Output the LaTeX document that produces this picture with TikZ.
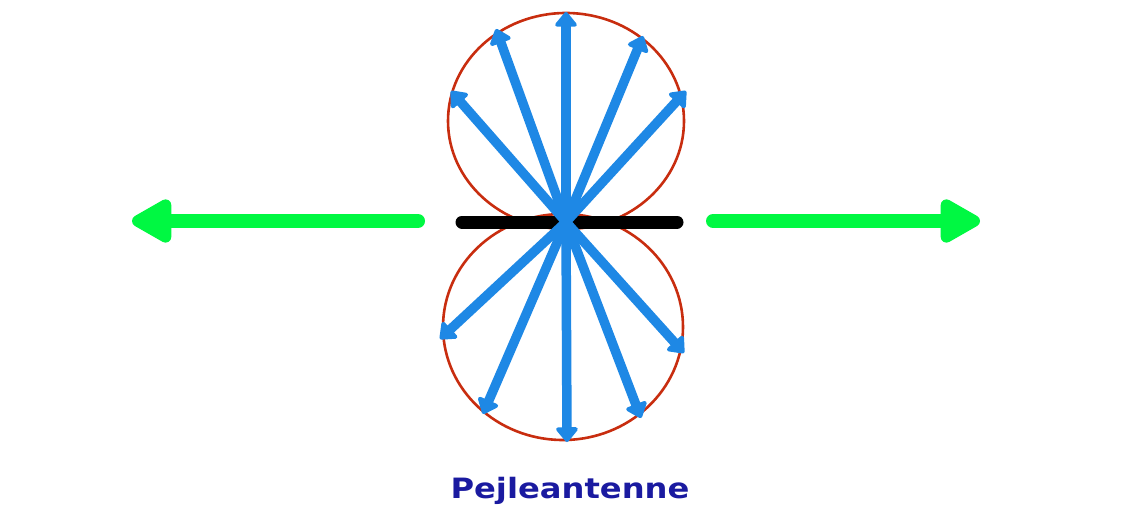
\documentclass[tikz,border=0pt]{standalone}
\usepackage{fontspec}
\newfontfamily\labelfont{DejaVu Sans}
\usetikzlibrary{arrows.meta}
\definecolor{lobered}{RGB}{200,45,15}
\definecolor{rayblue}{RGB}{30,136,229}
\definecolor{dirgreen}{RGB}{0,248,66}
\definecolor{txtblue}{RGB}{26,26,160}
\tikzset{
  lobe/.style={draw=lobered, line width=2.6pt},
  ray/.style={draw=rayblue, line width=9.5pt, -{Triangle[length=16pt,width=25pt,round]}},
  antenna/.style={draw=black, line width=13pt, line cap=round},
  dirarrow/.style={draw=dirgreen, line width=14pt, line cap=round, -{Triangle[length=46pt,width=48pt,round]}},
  caption/.style={text=txtblue, font=\labelfont\bfseries\fontsize{28}{30}\selectfont, anchor=base, inner sep=0pt}
}
\begin{document}
\begin{tikzpicture}[x=1pt,y=-1pt]
\useasboundingbox (0,0) rectangle (1132,516);
% lobes
\draw[lobe] (566,121) ellipse [x radius=118pt, y radius=108pt];
\draw[lobe] (563,327) ellipse [x radius=120pt, y radius=113pt];
% antenna
\coordinate (al) at (462,222);
\coordinate (ar) at (677,222);
\draw[antenna] (al) -- (ar);
% rays
\coordinate (c) at (566,222);
\coordinate (u1) at (566,12);
\coordinate (u2) at (496,29);
\coordinate (u3) at (643,36);
\coordinate (u4) at (451,91);
\coordinate (u5) at (686,91);
\coordinate (d1) at (440,339);
\coordinate (d2) at (483,414);
\coordinate (d3) at (567,442);
\coordinate (d4) at (641,418);
\coordinate (d5) at (684,353);
\foreach \t in {u1,u2,u3,u4,u5,d1,d2,d3,d4,d5}
  \draw[ray] (c) -- (\t);
% direction arrows
\coordinate (gls) at (418,221);
\coordinate (gle) at (132,221);
\coordinate (grs) at (713,221);
\coordinate (gre) at (980,221);
\draw[dirarrow] (gls) -- (gle);
\draw[dirarrow] (grs) -- (gre);
% caption
\node[caption] (cap) at (570,498) {\scalebox{1.15}[1]{Pejleantenne}};
\end{tikzpicture}
\end{document}
